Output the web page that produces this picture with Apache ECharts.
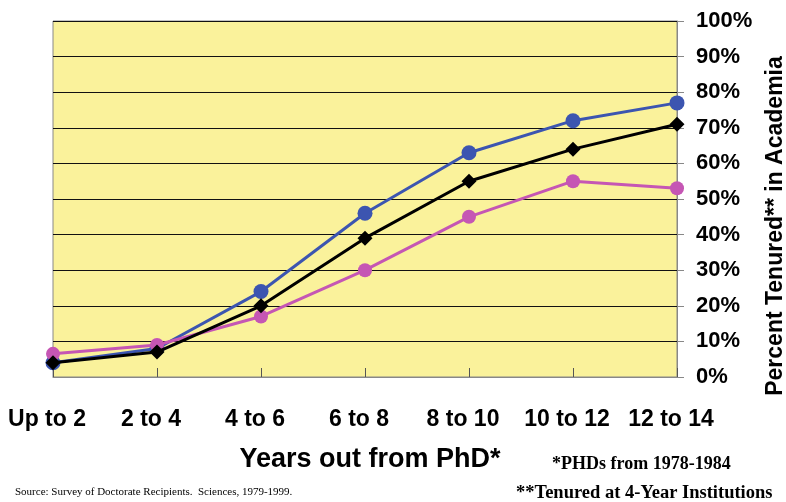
<!DOCTYPE html>
<html>
<head>
<meta charset="utf-8">
<script src="https://cdn.jsdelivr.net/npm/echarts@6/dist/echarts.min.js"></script>
<style>html,body{margin:0;padding:0;background:#fff;}#c{width:786px;height:502px;}</style>
</head>
<body>
<div id="c"></div>
<script>
var categories = ['Up to 2', '2 to 4', '4 to 6', '6 to 8', '8 to 10', '10 to 12', '12 to 14'];
var blueValues = [4, 8, 24, 46, 63, 72, 77];
var pinkValues = [6.5, 9, 17, 30, 45, 55, 53];
var blackValues = [4, 7, 20, 39, 55, 64, 71];
var yTicks = [0, 10, 20, 30, 40, 50, 60, 70, 80, 90, 100];

var chart = echarts.init(document.getElementById('c'));
chart.setOption({
  animation: false,
  backgroundColor: '#ffffff',
  grid: { left: 53, right: 109, top: 21, bottom: 125, show: true, backgroundColor: '#faf29b', borderColor: '#888888', borderWidth: 1 },
  xAxis: {
    type: 'category', data: categories, boundaryGap: false,
    axisLine: { show: true, lineStyle: { color: '#888888', width: 1 } },
    axisTick: { show: true, inside: true, length: 9, interval: 0, lineStyle: { color: '#555555' } },
    axisLabel: { interval: 0, hideOverlap: false, margin: 31, fontSize: 23, fontWeight: 'bold', color: '#000', fontFamily: 'Liberation Sans, Arial, sans-serif', padding: [0, 12, 0, 0] },
    splitLine: { show: false }
  },
  yAxis: {
    type: 'value', position: 'right', min: yTicks[0], max: yTicks[yTicks.length - 1], interval: 10,
    axisLine: { show: true, lineStyle: { color: '#888888', width: 1 } },
    axisTick: { show: true, length: 7, lineStyle: { color: '#888888' } },
    axisLabel: { margin: 19, fontSize: 22, fontWeight: 'bold', color: '#000', formatter: '{value}%', fontFamily: 'Liberation Sans, Arial, sans-serif' },
    splitLine: { show: true, lineStyle: { color: '#111111', width: 1 } }
  },
  series: [
    { type: 'line', data: blueValues, symbol: 'circle', symbolSize: 15, lineStyle: { color: '#3c55b0', width: 3 }, itemStyle: { color: '#3c55b0' }, z: 2 },
    { type: 'line', data: pinkValues, symbol: 'circle', symbolSize: 14, lineStyle: { color: '#c556b4', width: 3 }, itemStyle: { color: '#c556b4' }, z: 3 },
    { type: 'line', data: blackValues, symbol: 'diamond', symbolSize: 15, lineStyle: { color: '#000000', width: 3 }, itemStyle: { color: '#000000' }, z: 4 }
  ],
  graphic: [
    { type: 'text', x: 776, y: 226, rotation: Math.PI / 2, style: { text: 'Percent Tenured** in Academia', font: 'bold 23px "Liberation Sans", Arial, sans-serif', fill: '#000', align: 'center', verticalAlign: 'middle' } },
    { type: 'text', x: 370, y: 460, style: { text: 'Years out from PhD*', font: 'bold 27px "Liberation Sans", Arial, sans-serif', fill: '#000', align: 'center', verticalAlign: 'middle' } },
    { type: 'text', x: 552, y: 464, style: { text: '*PHDs from 1978-1984', font: 'bold 18px "Liberation Serif", "Times New Roman", serif', fill: '#000', align: 'left', verticalAlign: 'middle' } },
    { type: 'text', x: 15, y: 492, style: { text: 'Source: Survey of Doctorate Recipients.  Sciences, 1979-1999.', font: '11px "Liberation Serif", "Times New Roman", serif', fill: '#000', align: 'left', verticalAlign: 'middle' } },
    { type: 'text', x: 516, y: 493, style: { text: '**Tenured at 4-Year Institutions', font: 'bold 18.5px "Liberation Serif", "Times New Roman", serif', fill: '#000', align: 'left', verticalAlign: 'middle' } }
  ]
});
</script>
</body>
</html>
